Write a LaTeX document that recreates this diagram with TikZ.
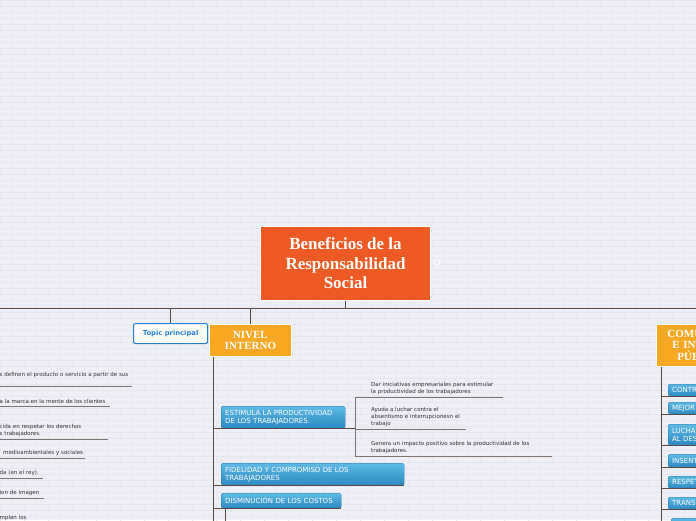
\documentclass[tikz,border=0pt]{standalone}
\usepackage{fontspec}
\setmainfont{DejaVu Sans}
\newfontfamily\titlefont{Liberation Serif}
\usetikzlibrary{positioning, calc}

\definecolor{bgLav}{HTML}{EEEFF6}
\definecolor{brickLine}{HTML}{E4E6F0}
\definecolor{rootRed}{HTML}{EE5A24}
\definecolor{levelOrange}{HTML}{F8A723}
\definecolor{boxTop}{HTML}{5EBAE5}
\definecolor{boxBottom}{HTML}{2C88C0}
\definecolor{topicBlue}{HTML}{2A7FD4}
\definecolor{linkBrown}{HTML}{5A4A43}
\definecolor{subLine}{HTML}{7D7470}
\definecolor{noteGray}{HTML}{333333}

\tikzset{
  link/.style={draw=linkBrown, line width=0.9pt},
  sublink/.style={draw=subLine, line width=0.8pt},
  brick/.style={draw=brickLine, line width=0.5pt},
  rootbox/.style={draw=white, line width=1pt, fill=rootRed, text=white,
    font=\titlefont\bfseries\fontsize{17}{19.5}\selectfont, align=center, inner sep=0pt, anchor=north west},
  levelbox/.style={draw=white, line width=0.8pt, fill=levelOrange, text=white,
    font=\titlefont\bfseries\fontsize{11}{11}\selectfont, align=center, inner sep=0pt, anchor=north west},
  bluebox/.style={top color=boxTop, bottom color=boxBottom, draw=boxBottom!85!black, line width=0.3pt,
    rounded corners=1.5pt, text=white, font=\fontsize{7}{8}\selectfont, align=left,
    inner xsep=4pt, inner ysep=0pt, anchor=north west},
  topicbox/.style={draw=topicBlue, line width=1.1pt, fill=white, rounded corners=2pt, text=topicBlue,
    font=\bfseries\fontsize{6.8}{8}\selectfont, inner sep=0pt, anchor=north west},
  note/.style={text=noteGray, font=\fontsize{5.5}{7}\selectfont, align=left,
    inner xsep=0pt, inner ysep=2.5pt, anchor=south west},
}

\begin{document}
\begin{tikzpicture}[x=1pt, y=-1pt]
  \useasboundingbox (0,0) rectangle (696,520);
  \clip (0,0) rectangle (696,520);

  % Brick wall background
  \fill[bgLav] (0,0) rectangle (696,520);
  \foreach \r in {0,...,87} {
    \draw[brick] (0,{\r*6}) -- (696,{\r*6});
    \foreach \c in {0,...,29} {
      \draw[brick] ({\c*24+mod(\r,2)*12},{\r*6}) -- ++(0,6);
    }
  }

  % Central topic
  \node[rootbox, minimum width=170pt, minimum height=74pt] (root) at (260,226)
    {Beneficios de la\\Responsabilidad\\Social};
  \node[circle, draw=white, line width=0.6pt, minimum size=6pt, inner sep=0pt] (fold) at (437,262) {};

  % Main bar
  \coordinate (barL) at (-2,308);
  \coordinate (barR) at (698,308);
  \draw[link] (barL) -- (barR);
  \draw[link] (root.south) -- (root.south |- barL);

  % First level
  \node[topicbox, minimum width=74pt, minimum height=20pt] (topic) at (133,323) {Topic principal};
  \node[levelbox, minimum width=82pt, minimum height=32pt] (interno) at (209,324) {NIVEL\\INTERNO};
  \node[levelbox, text width=78pt, minimum height=42pt, align=left, inner xsep=11pt,
    font=\titlefont\bfseries\fontsize{11}{11.5}\selectfont] (comunidad) at (656,324)
    {COMU\\\hspace*{5pt}E INT\\\hspace*{10pt}PÚB};
  \draw[link] (topic.north) -- (topic.north |- barL);
  \draw[link] (interno.north) -- (interno.north |- barL);

  % Nivel interno branch
  \coordinate (trunkL) at ([xshift=4pt]interno.south west);
  \draw[link] (trunkL) -- ++(0,170);

  \node[bluebox, text width=116pt, minimum height=22pt] (estimula) at (221,406)
    {ESTIMULA LA PRODUCTIVIDAD\\DE LOS TRABAJADORES.};
  \node[bluebox, text width=175pt, minimum height=22pt] (fidelidad) at (221,463)
    {FIDELIDAD Y COMPROMISO DE LOS\\TRABAJADORES};
  \node[bluebox, text width=112pt, minimum height=15pt] (disminucion) at (221,493)
    {DISMINUCIÓN DE LOS COSTOS};
  \coordinate (subE) at ($(estimula.south east)+(10,0)$);
  \draw[link] (trunkL |- estimula.south) -- (subE);
  \draw[link] (trunkL |- fidelidad.south) -- (fidelidad.south east);
  \draw[link] (trunkL |- disminucion.south) -- (disminucion.south east);
  \draw[link] ([xshift=4pt]disminucion.south west) -- ++(0,20);

  % Estimula sub-topics
  \node[note, text width=132pt] (dar) at (371,397)
    {Dar iniciativas empresariales para estimular\\la productividad de los trabajadores};
  \node[note, text width=95pt] (ayuda) at (371,429)
    {Ayuda a luchar contra el\\absentismo e interrupcionesn el\\trabajo};
  \node[note, text width=181pt] (genera) at (371,456)
    {Genera un impacto positivo sobre la productividad de los\\trabajadores.};
  \draw[sublink] (subE |- dar.south) -- (subE |- genera.south);
  \foreach \n in {dar, ayuda, genera} {
    \draw[sublink] (subE |- \n.south) -- (\n.south east);
  }

  % Left branch (notes)
  \coordinate (leftEdge) at (-3,0);
  \node[note, text width=132pt] (clientes) at (-0.5,386)
    {s definen el producto o servicio a partir de sus\\\mbox{}};
  \node[note, text width=110pt] (marca) at (-0.5,406) {a la marca en la mente de los clientes};
  \node[note, text width=108pt] (derechos) at (-0.5,439) {cida en respetar los derechos\\s trabajadores.};
  \node[note, text width=82pt] (sociales) at (3,458) {medioambientales y sociales};
  \node[note, text width=43pt] (rey) at (-0.5,478) {da (en el rey).};
  \node[note, text width=44pt] (imagen) at (-0.5,498) {ion de imagen};
  \node[note, text width=40pt] (cumplan) at (-0.5,523) {mplan los};
  \foreach \n in {clientes, marca, derechos, sociales, rey, imagen} {
    \draw[sublink] (leftEdge |- \n.south) -- (\n.south east);
  }

  % Comunidad branch
  \coordinate (trunkR) at ([xshift=5pt]comunidad.south west);
  \draw[link] (trunkR) -- ++(0,160);
  \node[bluebox, text width=52pt, minimum height=12pt] (contr) at (668,384) {CONTR};
  \node[bluebox, text width=52pt, minimum height=12pt] (mejor) at (668,402) {MEJOR};
  \node[bluebox, text width=52pt, minimum height=21pt] (lucha) at (668,424) {LUCHA\\AL DES};
  \node[bluebox, text width=52pt, minimum height=13pt] (insent) at (668,454) {INSENT};
  \node[bluebox, text width=52pt, minimum height=12pt] (respet) at (668,476) {RESPET};
  \node[bluebox, text width=52pt, minimum height=12pt] (trans) at (668,497) {TRANS};
  \node[bluebox, text width=52pt, minimum height=12pt] (siguiente) at (671,518) {};
  \foreach \n in {contr, mejor, lucha, insent, respet, trans} {
    \draw[link] (trunkR |- \n.south) -- (\n.south east);
  }
\end{tikzpicture}
\end{document}
